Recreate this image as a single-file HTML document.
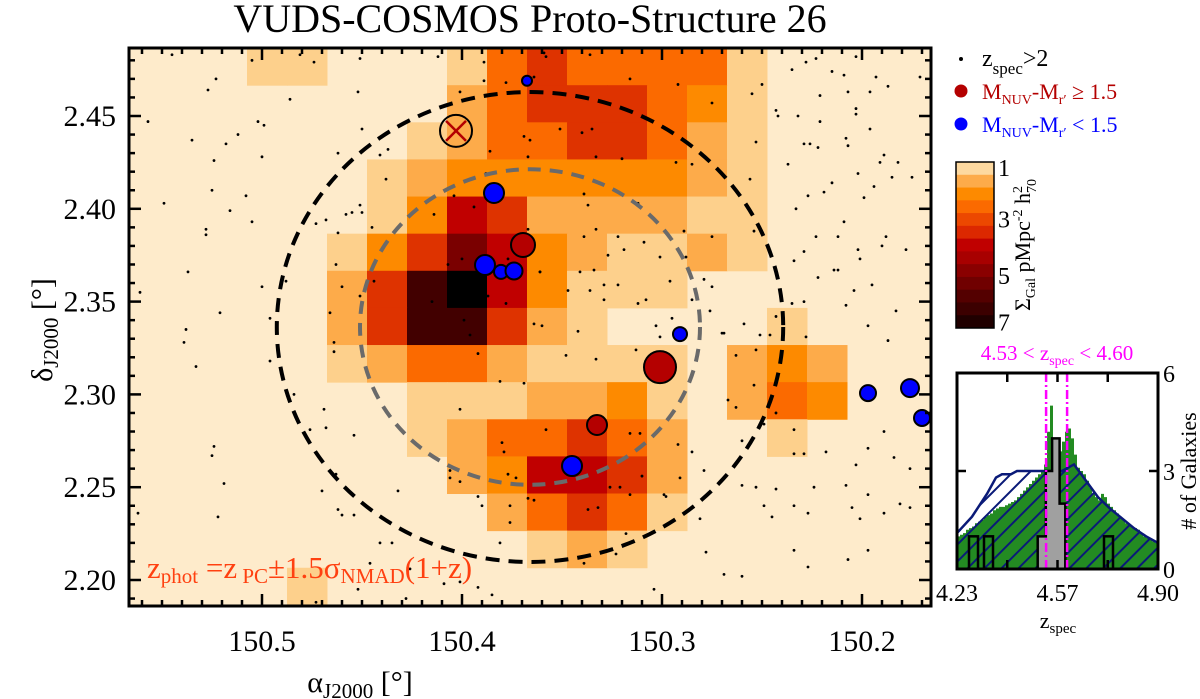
<!DOCTYPE html>
<html><head><meta charset="utf-8"><style>
html,body{margin:0;padding:0;background:#fff;}
svg{display:block;font-family:"Liberation Serif",serif;}
</style></head><body>
<svg id="chart" width="1200" height="699" viewBox="0 0 1200 699" xmlns="http://www.w3.org/2000/svg">
<defs>
<clipPath id="plotClip"><rect x="129" y="48" width="802" height="558"/></clipPath>
<clipPath id="insetClip"><rect x="957" y="373" width="201" height="196"/></clipPath>
<pattern id="hatch" patternUnits="userSpaceOnUse" width="12" height="12" patternTransform="rotate(-45)">
<rect width="12" height="12" fill="none"/><line x1="0" y1="6" x2="12" y2="6" stroke="#0a1a78" stroke-width="2"/>
</pattern>
</defs>
<text x="530" y="32" font-size="40" text-anchor="middle">VUDS-COSMOS Proto-Structure 26</text>
<g id="heat" clip-path="url(#plotClip)"></g>
<g id="dots" clip-path="url(#plotClip)"></g>
<g id="circles" clip-path="url(#plotClip)"></g>
<g id="markers" clip-path="url(#plotClip)"></g>
<text x="147" y="578" font-size="31" fill="#ff4010">z<tspan font-size="21" dy="5">phot</tspan><tspan dy="-5"> =z</tspan><tspan font-size="21" dy="5"> PC</tspan><tspan dy="-5">±1.5σ</tspan><tspan font-size="21" dy="5">NMAD</tspan><tspan dy="-5">(1+z)</tspan></text>
<rect x="129" y="48" width="802" height="558" fill="none" stroke="#000" stroke-width="3"/>
<g id="axes"></g>
<text x="360" y="692" font-size="30" text-anchor="middle">α<tspan font-size="21" dy="6">J2000</tspan><tspan dy="-6"> [°]</tspan></text>
<text transform="translate(52,330) rotate(-90)" font-size="30" text-anchor="middle">δ<tspan font-size="21" dy="6">J2000</tspan><tspan dy="-6"> [°]</tspan></text>
<g>
<circle cx="961" cy="59" r="2" fill="#000"/>
<text x="982" y="66" font-size="24">z<tspan font-size="17" dy="8">spec</tspan><tspan dy="-8">&gt;2</tspan></text>
<circle cx="961" cy="91" r="6.5" fill="#b40000"/>
<text x="982" y="99" font-size="22" fill="#b40000">M<tspan font-size="14" dy="5">NUV</tspan><tspan dy="-5">-M</tspan><tspan font-size="14" dy="5">r′</tspan><tspan dy="-5"> ≥ 1.5</tspan></text>
<circle cx="961" cy="124" r="6.5" fill="#0000ff"/>
<text x="982" y="132" font-size="22" fill="#0000ff">M<tspan font-size="14" dy="5">NUV</tspan><tspan dy="-5">-M</tspan><tspan font-size="14" dy="5">r′</tspan><tspan dy="-5"> &lt; 1.5</tspan></text>
</g>
<g id="cbar"></g>
<text transform="translate(1030,245) rotate(-90)" font-size="22" text-anchor="middle">Σ<tspan font-size="14" dy="5">Gal</tspan><tspan dy="-5"> pMpc</tspan><tspan font-size="14" dy="-8">-2</tspan><tspan dy="8"> h</tspan><tspan font-size="14" dy="-8">2</tspan><tspan font-size="14" dx="-7" dy="14">70</tspan></text>
<g id="inset"></g>
<text x="1057" y="360" font-size="21" fill="#ff00ff" text-anchor="middle">4.53 &lt; z<tspan font-size="14" dy="5">spec</tspan><tspan dy="-5"> &lt; 4.60</tspan></text>
<text x="1058" y="628" font-size="22" text-anchor="middle">z<tspan font-size="15" dy="5">spec</tspan></text>
<text transform="translate(1196,471) rotate(-90)" font-size="22" text-anchor="middle"># of Galaxies</text>
</svg>
<script>
// ---------- main map data ----------
const gridRA0 = 150.6275, gridDec0 = 2.4866, gridStep = 0.02, gridCol0 = 3;
const levelColors = ["#feebcb","#fdd08c","#fdab4a","#fd8a00","#fb6a00","#de3300","#c00000","#7a0000","#420000","#000000"];
const densityRows = [
[0,0,0,1,1,0,0,0,1,4,5,4,4,4,4,1,0,0,0,0],
[0,0,0,0,0,0,0,0,2,4,5,5,5,4,3,1,0,0,0,0],
[0,0,0,0,0,0,0,1,2,4,4,5,5,4,2,1,0,0,0,0],
[0,0,0,0,0,0,1,2,3,3,3,3,3,3,2,1,0,0,0,0],
[0,0,0,0,0,0,1,3,6,5,2,2,2,2,1,1,0,0,0,0],
[0,0,0,0,0,1,3,5,7,6,3,2,1,1,2,1,0,0,0,0],
[0,0,0,0,0,2,5,8,9,6,3,1,1,1,0,0,0,0,0,0],
[0,0,0,0,0,2,5,8,8,5,2,1,0,0,0,0,1,0,0,0],
[0,0,0,0,0,1,2,4,4,2,1,1,1,1,0,2,3,2,0,0],
[0,0,0,0,0,0,0,1,1,1,2,2,3,1,0,2,4,3,0,0],
[0,0,0,0,0,0,0,1,2,4,4,5,4,2,0,0,1,0,0,0],
[0,0,0,0,0,0,0,0,2,3,6,6,5,2,0,0,0,0,0,0],
[0,0,0,0,0,0,0,0,0,2,4,5,4,1,0,0,0,0,0,0],
[0,0,0,0,0,0,0,0,0,0,1,2,1,0,0,0,0,0,0,0],
[0,0,0,0,1,0,0,0,0,0,0,0,0,0,0,0,0,0,0,0]
];
const dotRA = [150.545,150.481,150.451,150.474,150.505,150.523,150.527,150.452,150.486,150.557,150.502,150.499,150.450,150.535,150.518,150.512,150.500,150.524,150.462,150.441,150.437,150.525,150.508,150.549,150.516,150.505,150.473,150.468,150.458,150.455,150.450,150.451,150.445,150.462,150.528,150.528,150.537,150.561,150.500,150.488,150.521,150.538,150.496,150.460,150.463,150.389,150.378,150.358,150.364,150.412,150.389,150.401,150.369,150.366,150.386,150.367,150.388,150.404,150.414,150.394,150.367,150.407,150.400,150.377,150.361,150.387,150.378,150.415,150.399,150.396,150.364,150.438,150.444,150.451,150.466,
150.539,150.533,150.496,150.484,150.469,150.468,150.476,150.454,150.524,150.525,150.519,150.470,150.463,150.462,150.460,150.454,150.432,150.401,150.392,150.381,150.369,150.380,150.379,150.406,150.406,150.401,150.377,150.373,150.367,150.364,150.392,150.390,150.376,150.376,150.381,150.392,150.385,150.409,150.401,150.428,150.426,150.446,150.441,150.435,150.452,150.473,150.562,150.522,150.464,150.464,
150.235,150.228,150.223,150.215,150.209,150.203,150.193,150.187,150.171,150.221,150.207,150.196,150.243,150.242,150.232,150.221,150.203,150.203,150.196,150.229,150.226,150.222,150.208,150.207,150.189,150.191,150.182,150.237,150.202,150.194,150.185,150.175,150.215,150.219,150.227,150.233,150.199,150.209,150.223,150.212,150.188,150.190,150.178,150.202,150.201,150.229,150.234,150.214,150.212,150.222,150.204,150.195,150.208,150.183,150.235,150.229,150.243,150.246,150.251,150.259,150.269,150.197,150.187,150.228,150.263,150.253,150.254,150.267,150.263,150.260,150.249,150.243,150.234,150.189,150.234,150.229,150.218,150.197,150.184,150.203,150.176,150.260,150.253,150.243,150.234,150.224,150.208,150.197,150.181,150.176,150.249,150.245,150.227,150.205,150.201,150.189,150.278,150.234,150.207,150.197,150.227,150.269,150.260,150.281,150.285,150.279,150.292,150.304,
150.359,150.336,150.316,150.292,150.275,150.250,150.255,150.253,150.256,150.293,150.285,150.351,150.340,150.335,150.333,150.320,150.339,150.337,150.312,150.333,150.339,150.322,150.309,150.289,150.275,150.254,150.327,150.319,150.301,150.288,150.361,150.341,150.334,150.329,150.322,150.312,150.308,150.296,150.279,150.275,150.347,150.336,150.329,150.360,150.348,150.333,150.342,150.313,150.303,150.301,150.295,150.285,150.276,150.270,150.358,150.316,150.311,150.326,150.321,150.316,150.337,150.332,150.299,150.298,150.310,150.291,150.339,150.318,150.323];
const dotDec = [2.483,2.483,2.481,2.479,2.480,2.470,2.464,2.463,2.459,2.447,2.447,2.445,2.443,2.437,2.435,2.440,2.428,2.426,2.430,2.429,2.432,2.410,2.407,2.403,2.399,2.393,2.392,2.394,2.397,2.398,2.398,2.402,2.390,2.387,2.389,2.386,2.366,2.355,2.358,2.361,2.344,2.335,2.341,2.358,2.370,2.469,2.468,2.482,2.471,2.482,2.479,2.463,2.439,2.437,2.431,2.428,2.419,2.407,2.397,2.401,2.389,2.370,2.373,2.373,2.366,2.353,2.349,2.350,2.340,2.332,2.338,2.416,2.361,2.353,2.344,
2.328,2.315,2.318,2.300,2.292,2.282,2.281,2.278,2.272,2.267,2.252,2.248,2.257,2.238,2.235,2.235,2.248,2.292,2.322,2.307,2.306,2.274,2.269,2.259,2.255,2.253,2.257,2.255,2.244,2.243,2.245,2.240,2.240,2.231,2.220,2.196,2.192,2.198,2.199,2.190,2.206,2.209,2.220,2.220,2.195,2.188,2.236,2.234,2.328,2.323,
2.475,2.479,2.481,2.474,2.472,2.482,2.471,2.466,2.471,2.461,2.463,2.463,2.453,2.450,2.450,2.447,2.454,2.451,2.443,2.435,2.435,2.433,2.438,2.434,2.429,2.425,2.425,2.424,2.419,2.412,2.417,2.417,2.414,2.409,2.407,2.400,2.406,2.393,2.385,2.385,2.385,2.380,2.378,2.378,2.373,2.377,2.372,2.367,2.367,2.363,2.356,2.359,2.348,2.345,2.349,2.350,2.342,2.332,2.332,2.338,2.333,2.337,2.329,2.331,2.321,2.324,2.305,2.297,2.293,2.275,2.284,2.290,2.281,2.280,2.268,2.268,2.269,2.271,2.266,2.262,2.260,2.251,2.250,2.249,2.240,2.250,2.251,2.246,2.241,2.239,2.240,2.234,2.236,2.239,2.233,2.236,2.215,2.216,2.211,2.216,2.207,2.203,2.202,2.233,2.269,2.259,2.273,2.195,
2.484,2.483,2.470,2.467,2.457,2.467,2.462,2.436,2.416,2.425,2.424,2.443,2.441,2.443,2.428,2.427,2.408,2.402,2.403,2.389,2.385,2.385,2.382,2.388,2.385,2.388,2.375,2.378,2.374,2.374,2.366,2.366,2.367,2.359,2.359,2.349,2.351,2.361,2.362,2.358,2.356,2.356,2.351,2.337,2.321,2.319,2.334,2.324,2.337,2.331,2.341,2.351,2.345,2.333,2.281,2.279,2.279,2.250,2.250,2.246,2.238,2.239,2.246,2.245,2.256,2.255,2.209,2.225,2.214];
const galRA   = [150.3675,150.384,150.3695,150.3885,150.3805,150.374,150.291,150.301,150.3325,150.345,150.197,150.176,150.170];
const galDec  = [2.469,2.4085,2.3805,2.3697,2.366,2.3665,2.3325,2.3147,2.2835,2.2614,2.3007,2.3034,2.2873];
const galSize = [5,10,12,10,7,8.5,7,16,10,10,8,9,8];
const galRed  = [0,0,1,0,0,0,0,1,1,0,0,0,0];
const flaggedRA = 150.403, flaggedDec = 2.442;
const circleRA = 150.366, circleDec = 2.3363;
const circleRadii = [0.1266, 0.085];
const xMajor = [150.5,150.4,150.3,150.2];
const yMajor = [2.20,2.25,2.30,2.35,2.40,2.45];
const cbarLabels = ["1","3","5","7"];
const cbarLabelPos = [0.03,0.34,0.68,0.96];
// ---------- inset data ----------
const greenStart = 4.23, greenBin = 0.01;
const greenCounts = [1.0,1.05,1.1,1.2,1.25,1.3,1.4,
1.45,1.5,1.6,1.65,1.7,1.8,1.85,1.9,1.9,1.95,
2.0,2.05,2.1,2.2,2.3,2.4,2.5,2.6,2.7,2.8,
2.9,3.0,3.2,4.2,5.0,3.7,3.5,3.6,3.9,4.2,
4.3,4.0,3.5,3.1,3.0,2.9,2.7,2.5,2.3,2.2,
2.1,2.3,2.2,2.0,1.9,1.8,1.7,1.6,1.5,1.4,
1.35,1.3,1.25,1.2,1.1,1.0,0.95,0.9,0.85,0.8];
const blueZ = [4.23,4.28,4.33,4.36,4.38,4.41,4.43,4.46,4.50,4.54,4.58,4.62,4.66,4.70,4.74,4.78,4.82,4.86,4.90];
const blueN = [1.1,1.6,2.3,2.8,2.9,2.9,3.0,3.0,3.0,3.0,3.0,3.2,2.7,2.2,1.85,1.55,1.25,1.0,0.8];
const grayEdges = [4.499,4.526,4.547,4.572,4.591,4.60];
const grayCounts = [1,3,4,2,0];
const outlineLeft = [4.27,4.32,4.72];
const outlineRight = [4.30,4.35,4.75];
const outlineCounts = [1,1,1];
const zCut = [4.527,4.597];
const insetXLabels = ["4.23","4.57","4.90"];
const insetYTicks = [0,3,6];

// ---------- scales ----------
const NS = "http://www.w3.org/2000/svg";
const X = ra => 262 + (150.5 - ra) * 2000;
const Y = dec => 116 + (2.45 - dec) * 1856;
const ZX = z => 957 + (z - 4.23) / 0.67 * 201;
const NY = n => 569 - n * 32.67;
function mk(parent, tag, attrs) {
  const e = document.createElementNS(NS, tag);
  for (const k in attrs) e.setAttribute(k, attrs[k]);
  parent.appendChild(e); return e;
}

// heatmap
const heat = document.getElementById('heat');
mk(heat, 'rect', {x:129, y:48, width:802, height:558, fill:levelColors[0]});
densityRows.forEach((row, r) => {
  row.forEach((lv, i) => {
    if (!lv) return;
    const raL = gridRA0 - gridStep * (gridCol0 + i), raR = raL - gridStep;
    const dT = gridDec0 - gridStep * r, dB = dT - gridStep;
    const c = mk(heat, 'rect', {x:X(raL), y:Y(dT), width:X(raR)-X(raL)+0.5, height:Y(dB)-Y(dT)+0.5, fill:levelColors[lv]});
    
    
  });
});
// dots
const dots = document.getElementById('dots');
dotRA.forEach((ra, i) => {
  const d = mk(dots, 'circle', {cx:X(ra), cy:Y(dotDec[i]), r:1.4, fill:'#000'});
  
  
});
// circles
const circ = document.getElementById('circles');
circleRadii.forEach((rad, i) => {
  const e = mk(circ, 'ellipse', {cx:X(circleRA), cy:Y(circleDec), rx:rad*2000, ry:rad*1856, fill:'none',
    stroke: i===0 ? '#000' : '#6a6a6a', 'stroke-width':4, 'stroke-dasharray': i===0 ? '14 9' : '13 9'});
  
  
});
// markers
const mg = document.getElementById('markers');
galRA.forEach((ra, i) => {
  const m = mk(mg, 'circle', {cx:X(ra), cy:Y(galDec[i]), r:galSize[i], fill: galRed[i] ? '#b40000' : '#0000ff', stroke:'#000', 'stroke-width':2});
  
  
});
const fx = X(flaggedRA), fy = Y(flaggedDec);
const fc = mk(mg, 'circle', {cx:fx, cy:fy, r:16, fill:'none', stroke:'#000', 'stroke-width':2});


mk(mg, 'path', {d:`M${fx-10},${fy-10}L${fx+10},${fy+10}M${fx+10},${fy-10}L${fx-10},${fy+10}`, stroke:'#b40000', 'stroke-width':2.5});

// axes
const ax = document.getElementById('axes');
for (let k = 0; k <= 40; k++) {
  const ra = 150.57 - k * 0.01;
  const x = X(ra); if (x < 130 || x > 930) continue;
  const major = xMajor.some(v => Math.abs(v - ra) < 1e-6);
  const L = major ? 12 : 6;
  mk(ax, 'line', {x1:x, y1:606, x2:x, y2:606-L, stroke:'#000', 'stroke-width':2.5});
  mk(ax, 'line', {x1:x, y1:48, x2:x, y2:48+L, stroke:'#000', 'stroke-width':2.5});
}
xMajor.forEach(v => {
  const t = mk(ax, 'text', {x:X(v), y:651, 'font-size':30, 'text-anchor':'middle'});
  t.textContent = v.toFixed(1);
  
  
});
for (let k = 0; k <= 31; k++) {
  const dec = 2.18 + k * 0.01;
  const y = Y(dec); if (y < 49 || y > 605) continue;
  const major = yMajor.some(v => Math.abs(v - dec) < 1e-6);
  const L = major ? 12 : 6;
  mk(ax, 'line', {x1:129, y1:y, x2:129+L, y2:y, stroke:'#000', 'stroke-width':2.5});
  mk(ax, 'line', {x1:931, y1:y, x2:931-L, y2:y, stroke:'#000', 'stroke-width':2.5});
}
yMajor.forEach(v => {
  const t = mk(ax, 'text', {x:116, y:Y(v)+10, 'font-size':30, 'text-anchor':'end'});
  t.textContent = v.toFixed(2);
  
  
});

// colorbar
const cb = document.getElementById('cbar');
const cbColors = ["#fdd9a0","#fdab4a","#fd8a00","#fb6a00","#ec4800","#dc2800","#c00000","#a80000","#8a0000","#700000","#540000","#3c0000","#200000"];
const cbTop = 162, cbBot = 328, bh = (cbBot - cbTop) / cbColors.length;
cbColors.forEach((c, i) => {
  const r = mk(cb, 'rect', {x:956, y:cbTop + i*bh, width:38, height:bh+0.5, fill:c});
  
  
});
mk(cb, 'rect', {x:956, y:cbTop, width:38, height:cbBot-cbTop, fill:'none', stroke:'#000', 'stroke-width':1.5});
cbarLabels.forEach((s, i) => {
  const t = mk(cb, 'text', {x:998, y:cbTop + cbarLabelPos[i]*(cbBot-cbTop) + 9, 'font-size':24});
  t.textContent = s;
  
  
});

// inset
const ins = document.getElementById('inset');
const ic = mk(ins, 'g', {'clip-path':'url(#insetClip)'});
let bp = `M${ZX(blueZ[0])},${NY(0)}`;
blueZ.forEach((z, i) => bp += `L${ZX(z)},${NY(blueN[i])}`);
bp += `L${ZX(blueZ[blueZ.length-1])},${NY(0)}Z`;
mk(ic, 'path', {d:bp, fill:'#fff'});
let gp = `M${ZX(greenStart)},${NY(0)}`;
greenCounts.forEach((n, i) => {
  gp += `L${ZX(greenStart + i*greenBin)},${NY(n)}L${ZX(greenStart + (i+1)*greenBin)},${NY(n)}`;
});
gp += `L${ZX(greenStart + greenCounts.length*greenBin)},${NY(0)}Z`;
const gpath = mk(ic, 'path', {d:gp, fill:'#238b22'});


mk(ic, 'path', {d:bp, fill:'url(#hatch)'});
const bl = mk(ic, 'path', {d:bp, fill:'none', stroke:'#0a1a78', 'stroke-width':2.5});


let grp = `M${ZX(grayEdges[0])},${NY(0)}`;
grayCounts.forEach((n, i) => grp += `L${ZX(grayEdges[i])},${NY(n)}L${ZX(grayEdges[i+1])},${NY(n)}`);
grp += `L${ZX(grayEdges[grayEdges.length-1])},${NY(0)}Z`;
const gr = mk(ic, 'path', {d:grp, fill:'#a0a0a0', stroke:'#000', 'stroke-width':2.5});


outlineLeft.forEach((z, i) => {
  const r = mk(ic, 'rect', {x:ZX(z), y:NY(outlineCounts[i]), width:ZX(outlineRight[i])-ZX(z), height:NY(0)-NY(outlineCounts[i]), fill:'none', stroke:'#000', 'stroke-width':2.5});
  
  
});
zCut.forEach(z => {
  const l = mk(ins, 'line', {x1:ZX(z), y1:373, x2:ZX(z), y2:569, stroke:'#ff00ff', 'stroke-width':2.5, 'stroke-dasharray':'9 3 2 3'});
  
  
});
mk(ins, 'rect', {x:957, y:373, width:201, height:196, fill:'none', stroke:'#000', 'stroke-width':3});
[0.25,0.5,0.75].forEach(f => {
  const x = 957 + 201*f;
  mk(ins, 'line', {x1:x, y1:373, x2:x, y2:382, stroke:'#000', 'stroke-width':2.5});
  mk(ins, 'line', {x1:x, y1:569, x2:x, y2:560, stroke:'#000', 'stroke-width':2.5});
});
mk(ins, 'line', {x1:957, y1:NY(3), x2:966, y2:NY(3), stroke:'#000', 'stroke-width':2.5});
mk(ins, 'line', {x1:1158, y1:NY(3), x2:1149, y2:NY(3), stroke:'#000', 'stroke-width':2.5});
insetXLabels.forEach((s, i) => {
  const t = mk(ins, 'text', {x:957 + i*100.5, y:601, 'font-size':24, 'text-anchor':'middle'});
  t.textContent = s;
  
  
});
insetYTicks.forEach(n => {
  const t = mk(ins, 'text', {x:1163, y:NY(n)+9, 'font-size':24});
  t.textContent = String(n);
  
  
});
</script>
</body></html>
